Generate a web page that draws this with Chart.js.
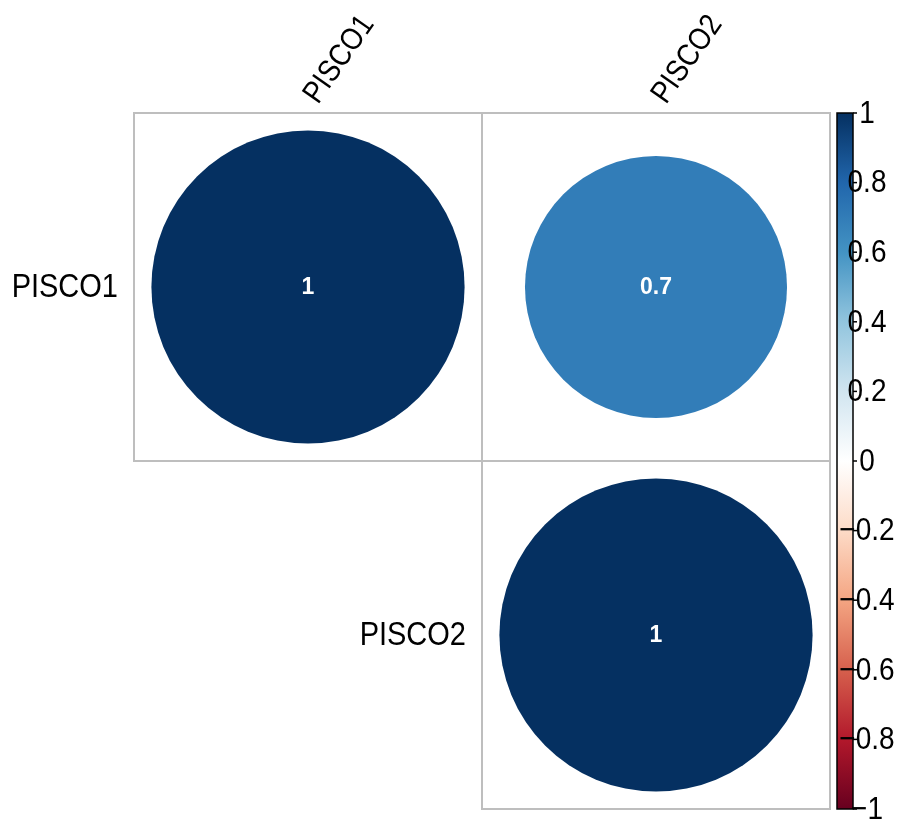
<!DOCTYPE html>
<html>
<head>
<meta charset="utf-8">
<title>PISCO correlation</title>
<script src="https://cdn.jsdelivr.net/npm/chart.js@4.4.1/dist/chart.umd.min.js"></script>
<style>
  html, body { margin: 0; padding: 0; background: #ffffff; }
  #wrap { width: 901px; height: 823px; position: relative; }
</style>
</head>
<body>
<div id="wrap"><canvas id="corr" width="901" height="823"></canvas></div>
<script>
// Variables and their correlation matrix
const variables = ['PISCO1', 'PISCO2'];
const corrRow1 = [1, 0.7];
const corrRow2 = [0.7, 1];
const corrMatrix = [corrRow1, corrRow2];

// Colour legend ticks (top to bottom)
const legendTicks = [1, 0.8, 0.6, 0.4, 0.2, 0, -0.2, -0.4, -0.6, -0.8, -1];

// Diverging red-blue palette from -1 to 1
const paletteRdBu = ['#67001F', '#B2182B', '#D6604D', '#F4A582', '#FDDBC7', '#FFFFFF',
                     '#D1E5F0', '#92C5DE', '#4393C3', '#2166AC', '#053061'];

const FONT = '"Liberation Sans", Arial, Helvetica, sans-serif';
const TEXT_STRETCH = 1.15; // labels are drawn slightly taller than wide

function hexToRgb(h) {
  const n = parseInt(h.slice(1), 16);
  return [(n >> 16) & 255, (n >> 8) & 255, n & 255];
}
function colorFor(v) {
  const t = (Math.max(-1, Math.min(1, v)) + 1) / 2 * (paletteRdBu.length - 1);
  const i = Math.min(Math.floor(t), paletteRdBu.length - 2);
  const f = t - i;
  const a = hexToRgb(paletteRdBu[i]), b = hexToRgb(paletteRdBu[i + 1]);
  const c = a.map((x, k) => Math.round(x + (b[k] - x) * f));
  return 'rgb(' + c.join(',') + ')';
}

// Upper triangle points (column >= row)
const points = [];
for (let r = 0; r < variables.length; r++) {
  for (let c = r; c < variables.length; c++) {
    points.push({ x: c + 1, y: r + 1, v: corrMatrix[r][c] });
  }
}

function cellPx(chart) {
  const xs = chart.scales.x;
  return Math.abs(xs.getPixelForValue(1) - xs.getPixelForValue(0));
}

function fmtTick(v) {
  if (v === 0) return '0';
  const s = String(Math.abs(v));
  return (v < 0 ? '\u2212' : '') + s;
}

// text drawn with a vertical stretch around its anchor
function tallText(ctx, str, x, y) {
  ctx.save();
  ctx.translate(x, y);
  ctx.scale(1, TEXT_STRETCH);
  ctx.fillText(str, 0, 0);
  ctx.restore();
}

// Cell borders, axis labels and the colour legend
const corrDecor = {
  id: 'corrDecor',
  beforeDatasetsDraw(chart) {
    const { ctx, scales: { x, y } } = chart;
    ctx.save();
    ctx.strokeStyle = '#BEBEBE';
    ctx.lineWidth = 2;
    points.forEach(p => {
      const x0 = x.getPixelForValue(p.x - 0.5), x1 = x.getPixelForValue(p.x + 0.5);
      const y0 = y.getPixelForValue(p.y - 0.5), y1 = y.getPixelForValue(p.y + 0.5);
      ctx.strokeRect(x0, y0, x1 - x0, y1 - y0);
    });
    ctx.restore();
  },
  afterDatasetsDraw(chart) {
    const { ctx, chartArea, scales: { x, y } } = chart;
    ctx.save();

    // values inside circles
    const meta = chart.getDatasetMeta(0);
    ctx.fillStyle = '#ffffff';
    ctx.font = 'bold 23px ' + FONT;
    ctx.textAlign = 'center';
    ctx.textBaseline = 'middle';
    meta.data.forEach((el, i) => {
      ctx.fillText(String(points[i].v), el.x, el.y + 1);
    });

    // row labels, left of the diagonal cell
    ctx.fillStyle = '#000000';
    ctx.font = '29px ' + FONT;
    ctx.textAlign = 'right';
    variables.forEach((name, i) => {
      const left = x.getPixelForValue(i + 1 - 0.5);
      tallText(ctx, name, left - 16, y.getPixelForValue(i + 1) + 1);
    });

    // column labels, rotated above the grid
    ctx.font = '27px ' + FONT;
    ctx.textAlign = 'left';
    ctx.textBaseline = 'alphabetic';
    variables.forEach((name, i) => {
      const cx = x.getPixelForValue(i + 1);
      ctx.save();
      ctx.translate(cx + 10, chartArea.top - 8);
      ctx.rotate(-55 * Math.PI / 180);
      ctx.scale(1, TEXT_STRETCH);
      ctx.fillText(name, 0, 0);
      ctx.restore();
    });

    // colour legend
    const barL = chartArea.right + 7, barR = chartArea.right + 23;
    const yOf = v => y.getPixelForValue(1.5 - v);
    const top = yOf(1), bottom = yOf(-1);
    const grad = ctx.createLinearGradient(0, bottom, 0, top);
    paletteRdBu.forEach((c, i) => grad.addColorStop(i / (paletteRdBu.length - 1), c));
    ctx.fillStyle = grad;
    ctx.fillRect(barL, top, barR - barL, bottom - top);
    ctx.strokeStyle = '#000000';
    ctx.lineWidth = 1.5;
    ctx.strokeRect(barL, top, barR - barL, bottom - top);

    ctx.font = '28px ' + FONT;
    ctx.textAlign = 'center';
    ctx.textBaseline = 'middle';
    ctx.fillStyle = '#000000';
    legendTicks.forEach(v => {
      const ty = yOf(v);
      ctx.beginPath();
      ctx.moveTo(barR, ty);
      ctx.lineTo(barR + 4, ty);
      ctx.stroke();
      tallText(ctx, fmtTick(v), chartArea.right + 37, ty + 1);
    });
    ctx.restore();
  }
};

new Chart(document.getElementById('corr'), {
  type: 'scatter',
  data: {
    datasets: [{
      data: points,
      pointRadius: ctx => ctx.raw ? Math.sqrt(Math.abs(ctx.raw.v)) * 0.45 * cellPx(ctx.chart) : 0,
      pointHoverRadius: ctx => ctx.raw ? Math.sqrt(Math.abs(ctx.raw.v)) * 0.45 * cellPx(ctx.chart) : 0,
      pointBackgroundColor: ctx => ctx.raw ? colorFor(ctx.raw.v) : '#fff',
      pointBorderWidth: 0,
      pointBorderColor: 'rgba(0,0,0,0)'
    }]
  },
  options: {
    responsive: false,
    animation: false,
    events: [],
    layout: { padding: { left: 134, right: 71, top: 113, bottom: 14 } },
    scales: {
      x: { type: 'linear', min: 0.5, max: 2.5, display: false },
      y: { type: 'linear', min: 0.5, max: 2.5, reverse: true, display: false }
    },
    plugins: { legend: { display: false }, tooltip: { enabled: false } }
  },
  plugins: [corrDecor]
});
</script>
</body>
</html>
